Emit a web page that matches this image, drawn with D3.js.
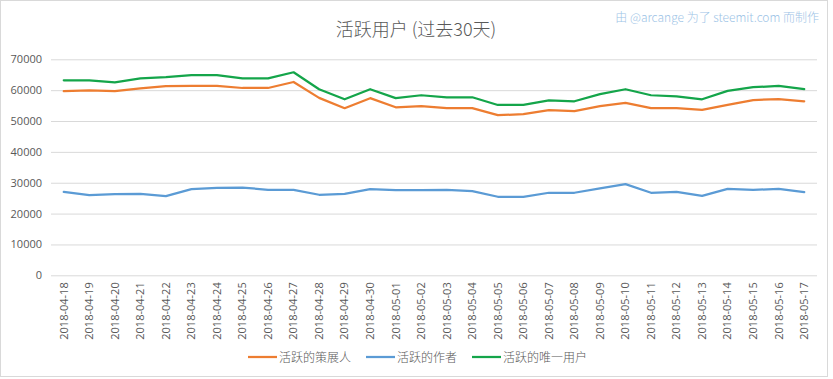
<!DOCTYPE html>
<html><head><meta charset="utf-8">
<script src="https://cdn.jsdelivr.net/npm/d3@7"></script>
<style>
body{margin:0;background:#fff;}
svg{display:block;font-family:"Noto Sans CJK SC","Noto Sans",sans-serif;}
</style></head>
<body>
<svg id="chart" width="833" height="379"></svg>
<script>
const dates = ["2018-04-18","2018-04-19","2018-04-20","2018-04-21","2018-04-22","2018-04-23","2018-04-24","2018-04-25","2018-04-26","2018-04-27","2018-04-28","2018-04-29","2018-04-30","2018-05-01","2018-05-02","2018-05-03","2018-05-04","2018-05-05","2018-05-06","2018-05-07","2018-05-08","2018-05-09","2018-05-10","2018-05-11","2018-05-12","2018-05-13","2018-05-14","2018-05-15","2018-05-16","2018-05-17"];
const curators = [59650,59900,59700,60600,61300,61350,61400,60700,60700,62650,57500,54150,57400,54450,54800,54200,54200,51900,52200,53500,53200,54800,55900,54200,54200,53600,55200,56800,57100,56400];
const authors = [27050,26000,26300,26400,25650,27900,28300,28450,27700,27700,26100,26400,27900,27600,27600,27700,27300,25450,25450,26750,26750,28200,29550,26750,27000,25750,28000,27700,28000,26950];
const uniqueUsers = [63200,63200,62550,63800,64200,64900,64900,63800,63800,65800,60300,57050,60300,57400,58350,57700,57700,55200,55200,56700,56400,58700,60300,58350,58000,57050,59750,60950,61350,60300];
const yTicks = [0,10000,20000,30000,40000,50000,60000,70000];
const seriesNames = ["活跃的策展人","活跃的作者","活跃的唯一用户"];
const seriesColors = ["#ED7D31","#5B9BD5","#14A54A"];
const titleText = "活跃用户 (过去30天)";
const creditText = "由 @arcange 为了 steemit.com 而制作";

(function(){
const svg = d3.select("#chart");
svg.append("rect").attr("x",0.5).attr("y",0.5).attr("width",827).attr("height",376)
  .attr("fill","#fff").attr("stroke","#d9d9d9");

const pLeft=51, pRight=817, pTop=59.3, pBottom=275.3;
const x = d3.scaleBand().domain(dates).range([pLeft,pRight]);
const y = d3.scaleLinear().domain([0,70000]).range([pBottom,pTop]);

const yAxis = d3.axisLeft(y).tickValues(yTicks).tickSize(-(pRight-pLeft)).tickFormat(d3.format("d"));
const gy = svg.append("g").attr("transform",`translate(${pLeft},0)`).call(yAxis);
gy.select(".domain").remove();
gy.selectAll(".tick line").attr("stroke","#d9d9d9").attr("stroke-width",1);
gy.selectAll(".tick text").attr("fill","#595959").attr("font-size",11).attr("x",-9)
  .attr("font-family","'Open Sans','Noto Sans',sans-serif");

const xAxis = d3.axisBottom(x).tickSize(0);
const gx = svg.append("g").attr("transform",`translate(0,${pBottom})`).call(xAxis);
gx.select(".domain").remove();
gx.selectAll(".tick text").attr("fill","#595959").attr("font-size",11)
  .attr("font-family","'Open Sans','Noto Sans',sans-serif")
  .attr("transform","rotate(-90)").attr("text-anchor","end")
  .attr("x",-7).attr("y",0).attr("dy","0.35em");

const line = d3.line().x((d,i)=>x(dates[i])+x.bandwidth()/2).y(d=>y(d));
[curators,authors,uniqueUsers].forEach((s,k)=>{
  svg.append("path").datum(s).attr("d",line).attr("fill","none")
    .attr("stroke",seriesColors[k]).attr("stroke-width",2.25)
    .attr("stroke-linejoin","round").attr("stroke-linecap","round");
});

svg.append("text").attr("x",416).attr("y",36).attr("text-anchor","middle")
  .attr("font-size",18).attr("font-weight",300).attr("fill","#595959").text(titleText);
svg.append("text").attr("x",819).attr("y",22).attr("text-anchor","end")
  .attr("font-size",12).attr("font-weight",300).attr("fill","#9DC3E6").text(creditText);

const legX = [248,366,472];
const lg = svg.append("g");
seriesNames.forEach((n,k)=>{
  lg.append("line").attr("x1",legX[k]).attr("x2",legX[k]+29).attr("y1",357).attr("y2",357)
    .attr("stroke",seriesColors[k]).attr("stroke-width",2.25);
  lg.append("text").attr("x",legX[k]+31).attr("y",361.5).attr("font-size",12)
    .attr("font-weight",300).attr("fill","#595959").text(n);
});
})();
</script>
</body></html>
